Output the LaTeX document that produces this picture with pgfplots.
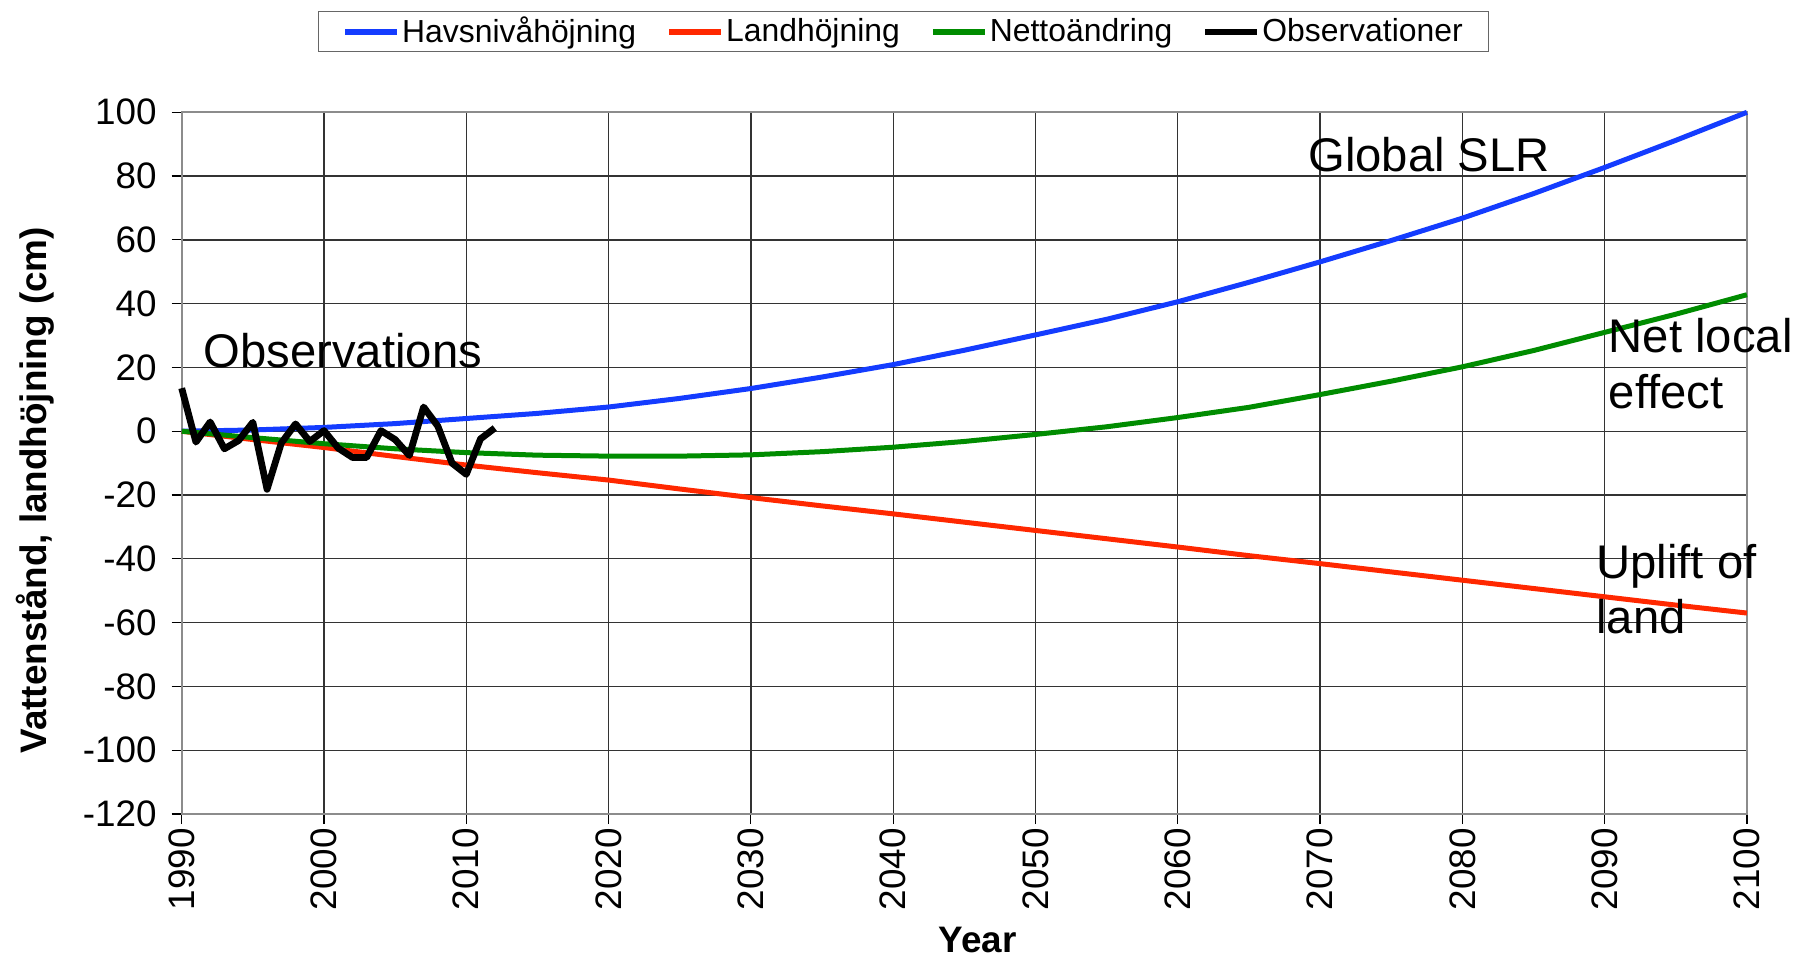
\documentclass[border=0pt]{standalone}
\usepackage{pgfplots}
\pgfplotsset{compat=1.18}
\usepackage{fontspec}
\setmainfont{Liberation Sans}
\definecolor{cblue}{RGB}{20,60,255}
\definecolor{cred}{RGB}{255,40,0}
\definecolor{cgreen}{RGB}{0,140,0}
\begin{document}
\begin{tikzpicture}
\useasboundingbox (-90.85bp,-73bp) rectangle (813.65bp,407bp);
\begin{axis}[
  at={(0,0)}, anchor=south west,
  scale only axis,
  width=782.6bp, height=350.85bp,
  xmin=1990, xmax=2100, ymin=-120, ymax=100,
  xtick={1990,2000,...,2100},
  ytick={-120,-100,...,100},
  xtick pos=bottom, ytick pos=left,
  clip=false,
  grid=major,
  major grid style={black!80, line width=0.65bp},
  axis line style={black!45, line width=1bp},
  tick align=outside,
  major tick length=5bp,
  tick style={black, line width=0.6bp},
  /pgf/number format/assume math mode=true,
  /pgf/number format/1000 sep={},
  ticklabel style={font=\fontsize{18.5}{20}\selectfont},
  xticklabel style={rotate=90, anchor=east, inner sep=2bp},
  yticklabel style={xshift=-4bp},
  xlabel={\bfseries Year},
  ylabel={\bfseries Vattenstånd, landhöjning (cm)},
  label style={font=\fontsize{18.5}{20}\selectfont},
  xlabel style={at={(axis description cs:0.5086,-0.1795)}, anchor=center},
  ylabel style={at={(axis description cs:-0.0935,0.4615)}, anchor=center},
  legend columns=4,
  legend style={at={(axis description cs:0.4611,1.1151)}, anchor=center,
    draw=black!60, fill=white,
    font=\fontsize{16}{18}\selectfont,
    inner xsep=12bp, inner ysep=2bp,
    nodes={inner sep=1bp},
    /tikz/every even column/.append style={column sep=14bp}},
  legend image code/.code={\draw[#1, line width=3bp] (0bp,0bp) -- (26bp,0bp);},
  legend cell align=left,
]
\addplot[cblue, line width=2.5bp, line join=round] coordinates {
(1990,0) (1995,0.4) (2000,1.2) (2005,2.4) (2010,4.0) (2015,5.6) (2020,7.6)
(2025,10.3) (2030,13.4) (2035,17.0) (2040,20.9) (2045,25.4) (2050,30.2)
(2055,35.1) (2060,40.6) (2065,46.7) (2070,53.1) (2075,59.8) (2080,66.8)
(2085,74.5) (2090,82.7) (2095,91.2) (2100,100)
};
\addlegendentry{Havsnivåhöjning}
\addplot[cred, line width=2.5bp, line join=round] coordinates {
(1990,0) (1995,-2.6) (2000,-5.1) (2005,-7.9) (2010,-10.6) (2015,-13.0) (2020,-15.3)
(2025,-18.1) (2030,-20.8) (2035,-23.4) (2040,-25.9) (2045,-28.5) (2050,-31.1)
(2055,-33.7) (2060,-36.3) (2065,-39.0) (2070,-41.5) (2075,-44.1) (2080,-46.7)
(2085,-49.3) (2090,-51.9) (2095,-54.5) (2100,-57.0)
};
\addlegendentry{Landhöjning}
\addplot[cgreen, line width=2.5bp, line join=round] coordinates {
(1990,0) (1995,-2.0) (2000,-3.9) (2005,-5.5) (2010,-6.7) (2015,-7.5) (2020,-7.8)
(2025,-7.8) (2030,-7.4) (2035,-6.4) (2040,-5.0) (2045,-3.2) (2050,-1.0)
(2055,1.4) (2060,4.3) (2065,7.5) (2070,11.5) (2075,15.7) (2080,20.2)
(2085,25.3) (2090,31.0) (2095,36.7) (2100,42.8)
};
\addlegendentry{Nettoändring}
\addplot[black, line width=3.4bp, line join=round] coordinates {
(1990,13.5) (1991,-3.4) (1992,2.9) (1993,-5.5) (1994,-2.9) (1995,2.8)
(1996,-18.2) (1997,-3.7) (1998,2.3) (1999,-3.2) (2000,0.2) (2001,-5.3)
(2002,-8.2) (2003,-8.2) (2004,0.2) (2005,-2.6) (2006,-7.6) (2007,7.6)
(2008,1.6) (2009,-10.0) (2010,-13.5) (2011,-2.4) (2012,1.0)
};
\addlegendentry{Observationer}
\node[anchor=base west, inner sep=0, font=\fontsize{23.7}{28}\selectfont] at (axis cs:2069.15,81.35) {Global SLR};
\node[anchor=base west, inner sep=0, font=\fontsize{23.7}{28}\selectfont] at (axis cs:2090.27,24.6) {Net local};
\node[anchor=base west, inner sep=0, font=\fontsize{23.7}{28}\selectfont] at (axis cs:2090.27,7.0) {effect};
\node[anchor=base west, inner sep=0, font=\fontsize{23.7}{28}\selectfont] at (axis cs:2089.4,-46.1) {Uplift of};
\node[anchor=base west, inner sep=0, font=\fontsize{23.7}{28}\selectfont] at (axis cs:2089.4,-63.5) {land};
\node[anchor=base west, inner sep=0, font=\fontsize{23.7}{28}\selectfont] at (axis cs:1991.52,20.0) {Observations};
\end{axis}
\end{tikzpicture}
\end{document}
